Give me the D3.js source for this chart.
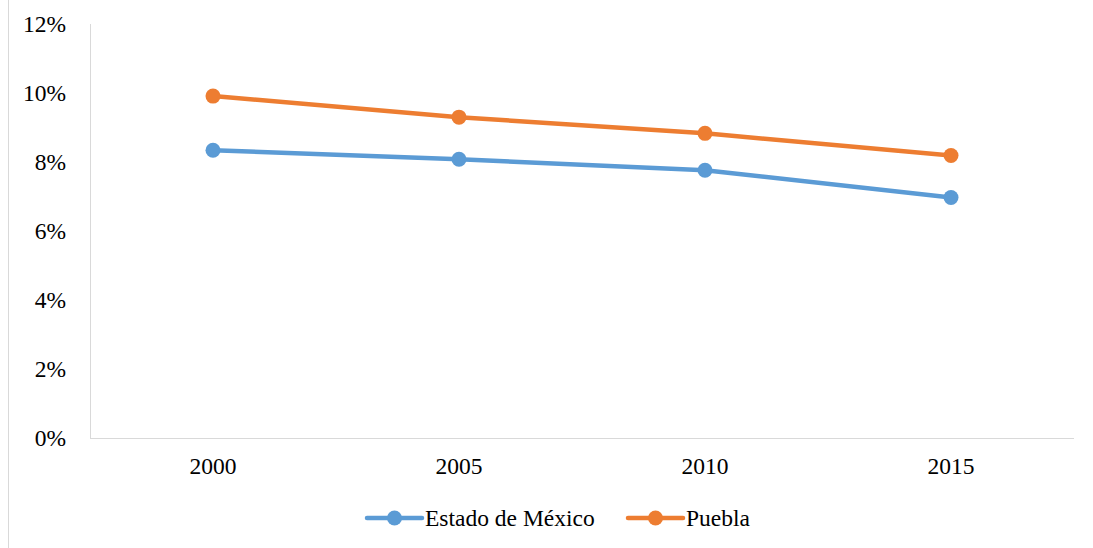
<!DOCTYPE html>
<html>
<head>
<meta charset="utf-8">
<script src="https://cdn.jsdelivr.net/npm/d3@7"></script>
<style>
  body { margin: 0; background: #fff; }
  svg text { font-family: "Times New Roman", "Liberation Serif", Tinos, "DejaVu Serif", serif; }
</style>
</head>
<body>
<div class="chart-holder"></div>
<script>
const years = ["2000", "2005", "2010", "2015"];
const seriesNames = ["Estado de México", "Puebla"];
const estadoMexico = [0.0834, 0.0808, 0.0776, 0.0697];
const puebla = [0.0991, 0.0930, 0.0883, 0.0819];
const yTicks = [0, 0.02, 0.04, 0.06, 0.08, 0.10, 0.12];
const colors = ["#5B9BD5", "#ED7D31"];

const width = 1093;
const height = 548;
const margin = { left: 90, right: 19, top: 24, bottom: 110 };
const fontSize = 23.5;

const svg = d3.select(".chart-holder")
  .append("svg")
  .attr("width", width)
  .attr("height", height);

// outer frame line on the left
svg.append("line")
  .attr("x1", 8.5).attr("x2", 8.5)
  .attr("y1", 0).attr("y2", height)
  .attr("stroke", "#d9d9d9").attr("stroke-width", 1);

const x = d3.scaleBand()
  .domain(years)
  .range([margin.left, width - margin.right]);

const y = d3.scaleLinear()
  .domain([0, 0.12])
  .range([height - margin.bottom, margin.top]);

// axis lines
svg.append("line")
  .attr("x1", margin.left + 0.5).attr("x2", margin.left + 0.5)
  .attr("y1", y(0.12)).attr("y2", y(0))
  .attr("stroke", "#d9d9d9");
svg.append("line")
  .attr("x1", margin.left).attr("x2", width - margin.right)
  .attr("y1", y(0) + 0.5).attr("y2", y(0) + 0.5)
  .attr("stroke", "#d9d9d9");

// y tick labels
svg.append("g")
  .selectAll("text")
  .data(yTicks)
  .join("text")
  .attr("x", 66)
  .attr("y", d => y(d))
  .attr("dy", "0.35em")
  .attr("text-anchor", "end")
  .attr("font-size", fontSize)
  .attr("fill", "#000")
  .text(d => d3.format(".0%")(d));

// x tick labels
svg.append("g")
  .selectAll("text")
  .data(years)
  .join("text")
  .attr("x", d => x(d) + x.bandwidth() / 2)
  .attr("y", y(0) + 28)
  .attr("dy", "0.35em")
  .attr("text-anchor", "middle")
  .attr("font-size", fontSize)
  .attr("fill", "#000")
  .text(d => d);

const allSeries = [estadoMexico, puebla];
const line = d3.line()
  .x((d, i) => x(years[i]) + x.bandwidth() / 2)
  .y(d => y(d));

allSeries.forEach((vals, s) => {
  svg.append("path")
    .datum(vals)
    .attr("d", line)
    .attr("fill", "none")
    .attr("stroke", colors[s])
    .attr("stroke-width", 4.5)
    .attr("stroke-linejoin", "round")
    .attr("stroke-linecap", "round");
  svg.append("g")
    .selectAll("circle")
    .data(vals)
    .join("circle")
    .attr("cx", (d, i) => x(years[i]) + x.bandwidth() / 2)
    .attr("cy", d => y(d))
    .attr("r", 7.5)
    .attr("fill", colors[s]);
});

// legend
const legendX = [367, 628];
const legendY = 518;
seriesNames.forEach((name, s) => {
  const g = svg.append("g").attr("transform", `translate(${legendX[s]},${legendY})`);
  g.append("line")
    .attr("x1", 0).attr("x2", 55)
    .attr("y1", 0).attr("y2", 0)
    .attr("stroke", colors[s])
    .attr("stroke-width", 4.5)
    .attr("stroke-linecap", "round");
  g.append("circle")
    .attr("cx", 27.5).attr("cy", 0)
    .attr("r", 7.5)
    .attr("fill", colors[s]);
  g.append("text")
    .attr("x", 58)
    .attr("y", 0)
    .attr("dy", "0.33em")
    .attr("font-size", fontSize)
    .attr("fill", "#000")
    .text(name);
});
</script>
</body>
</html>
